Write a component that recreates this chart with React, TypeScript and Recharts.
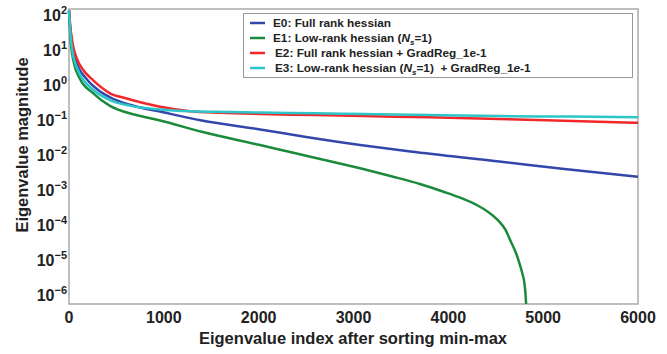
import React from "react"
import { LineChart, Line, XAxis, YAxis, Legend, ReferenceArea } from "recharts"

const FONT = "'Liberation Sans', Arial, sans-serif"

// eigenvalue index / magnitude
const e0Idx = [0, 10, 32, 80, 186, 300, 432, 650, 960, 1400, 2015, 2500, 3070, 3600, 4535, 5200, 6000]
const e0Val = [90, 35, 10, 3, 1, 0.5, 0.3, 0.18, 0.117, 0.065, 0.036, 0.022, 0.013, 0.0085, 0.0044, 0.0027, 0.0016]

const e1Idx = [0, 10, 20, 50, 116, 250, 432, 700, 960, 1400, 2015, 2400, 2764, 3070, 3400, 3700, 3950, 4150, 4300, 4420, 4520, 4600, 4660, 4710, 4750, 4780, 4803, 4815, 4822, 4826]
const e1Val = [90, 25, 10, 3, 1, 0.4, 0.17, 0.095, 0.065, 0.031, 0.0129, 0.0074, 0.0044, 0.0028, 0.00166, 0.001, 0.0006, 0.00038, 0.00025, 0.000158, 0.0000933, 0.00005, 0.0000224, 0.0000112, 0.0000054, 0.0000028, 0.0000014, 0.00000063, 0.00000025, 0.00000003]

const e2Idx = [0, 10, 39, 80, 150, 239, 432, 600, 960, 1277, 1600, 2015, 2600, 3100, 3800, 4535, 5300, 6000]
const e2Val = [90, 40, 10, 4, 1.8, 1, 0.39, 0.28, 0.16, 0.12, 0.108, 0.1, 0.093, 0.087, 0.08, 0.072, 0.063, 0.056]

const e3Idx = [0, 10, 25, 50, 80, 144, 250, 432, 650, 960, 1277, 1700, 2015, 2600, 3100, 3800, 4535, 5300, 6000]
const e3Val = [90, 30, 10, 4, 2.2, 1, 0.5, 0.25, 0.17, 0.135, 0.12, 0.114, 0.11, 0.105, 0.1, 0.093, 0.087, 0.084, 0.081]

const xTicks = [0, 1000, 2000, 3000, 4000, 5000, 6000]
const yTicks = [1e-6, 1e-5, 1e-4, 1e-3, 1e-2, 1e-1, 1, 10, 100]
const Y_MIN = 3.7e-7
const Y_MAX = 100

const seriesNames = [
  "E0: Full rank hessian",
  "E1: Low-rank hessian",
  "E2: Full rank hessian + GradReg_1e-1",
  "E3: Low-rank hessian",
]
const seriesColors = ["#3347ab", "#1b8a3a", "#f2272b", "#2cc5c8"]

const zip = (idx: number[], val: number[]) => idx.map((i, k) => ({ idx: i, v: val[k] }))

const series = [
  { key: "e0", data: zip(e0Idx, e0Val) },
  { key: "e1", data: zip(e1Idx, e1Val) },
  { key: "e2", data: zip(e2Idx, e2Val) },
  { key: "e3", data: zip(e3Idx, e3Val) },
]

function PowTick(props: any) {
  const { x, y, payload } = props
  const exp = Math.round(Math.log10(payload.value))
  const sup = exp < 0 ? `\u2212${-exp}` : `${exp}`
  return (
    <text x={x} y={y} textAnchor="end" fontFamily={FONT} fontWeight="bold" fill="#222">
      <tspan fontSize={16} dy={12}>10</tspan>
      <tspan fontSize={11} dy={-7}>{sup}</tspan>
    </text>
  )
}

function LegendBox() {
  const ns = (
    <>
      (<tspan fontStyle="italic">N</tspan>
      <tspan fontStyle="italic" fontSize={8} dy={3}>s</tspan>
      <tspan dy={-3}>=1)</tspan>
    </>
  )
  const rows = [
    <>{seriesNames[0]}</>,
    <>{seriesNames[1]} {ns}</>,
    <>{seriesNames[2]}</>,
    <>{seriesNames[3]} {ns}  + GradReg_1<tspan fontStyle="italic">e</tspan>-1</>,
  ]
  return (
    <svg width={390} height={65} style={{ display: "block" }}>
      <rect x={0.5} y={0.5} width={389} height={64} fill="#fff" stroke="#999" />
      {rows.map((r, i) => (
        <g key={i}>
          <line x1={7} x2={22} y1={10 + i * 15} y2={10 + i * 15} stroke={seriesColors[i]} strokeWidth={2.5} />
          <text x={i < 2 ? 30 : 32} y={14 + i * 15} fontFamily={FONT} fontWeight="bold" fontSize={11.8} fill="#222" xmlSpace="preserve">
            {r}
          </text>
        </g>
      ))}
    </svg>
  )
}

export default function App() {
  return (
    <div style={{ position: "absolute", left: 0, top: 0, background: "#fff" }}>
      <LineChart width={667} height={354} margin={{ top: 9, right: 29, bottom: 0, left: 0 }}>
        <XAxis
          dataKey="idx"
          type="number"
          domain={[0, 6000]}
          ticks={xTicks}
          allowDuplicatedCategory={false}
          height={50}
          axisLine={false}
          tickLine={false}
          tickSize={0}
          tickMargin={8}
          tick={{ fontFamily: FONT, fontWeight: "bold", fontSize: 16, fill: "#222" }}
          label={{
            content: () => (
              <text x={353} y={344} textAnchor="middle" fontFamily={FONT} fontWeight="bold" fontSize={16.5} fill="#222">
                Eigenvalue index after sorting min-max
              </text>
            ),
          }}
        />
        <YAxis
          type="number"
          scale="log"
          domain={[Y_MIN, Y_MAX]}
          allowDataOverflow
          ticks={yTicks}
          width={69}
          axisLine={false}
          tickLine={false}
          tickSize={0}
          tickMargin={2}
          tick={<PowTick />}
          label={{
            content: () => (
              <text x={22} y={145} transform="rotate(-90 22 145)" textAnchor="middle" dominantBaseline="central" fontFamily={FONT} fontWeight="bold" fontSize={16.5} fill="#222">
                Eigenvalue magnitude
              </text>
            ),
          }}
        />
        <ReferenceArea x1={0} x2={6000} y1={Y_MIN} y2={Y_MAX} fill="none" stroke="#aaa" strokeWidth={1.5} />
        {series.map((s, i) => (
          <Line
            key={s.key}
            data={s.data}
            dataKey="v"
            name={seriesNames[i]}
            type="monotone"
            stroke={seriesColors[i]}
            strokeWidth={2.5}
            dot={false}
            isAnimationActive={false}
          />
        ))}
        <Legend
          layout="vertical"
          align="center"
          verticalAlign="middle"
          wrapperStyle={{ left: 243, top: 13, width: 390 }}
          content={() => <LegendBox />}
        />
      </LineChart>
    </div>
  )
}
